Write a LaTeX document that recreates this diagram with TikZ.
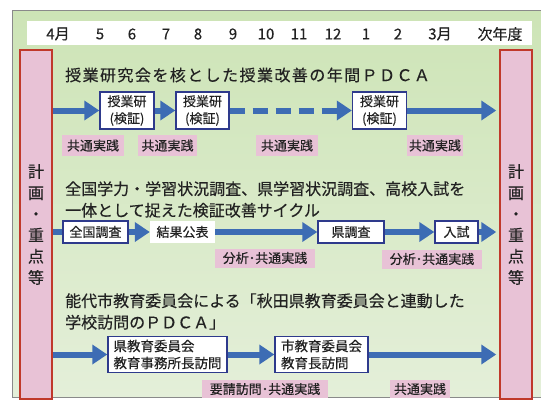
\documentclass[tikz,border=0pt]{standalone}
\usepackage{fontspec}
\setmainfont{Noto Sans CJK JP}[FakeBold=0.4]
\usetikzlibrary{arrows.meta}
\definecolor{bgtop}{HTML}{CDE4B6}
\definecolor{bgbot}{HTML}{E4EFD9}
\definecolor{pinkfill}{HTML}{E8C2D6}
\definecolor{barred}{HTML}{C0392B}
\definecolor{arrblue}{HTML}{3D6CB4}
\definecolor{navy}{HTML}{2E3A8C}
\definecolor{txt}{HTML}{222222}
\definecolor{framegray}{HTML}{8A8A8A}
\begin{document}
\begin{tikzpicture}[x=1pt,y=-1pt,
 every node/.style={text=txt, inner sep=0pt},
 bar/.style={draw=barred, line width=1.5pt, fill=pinkfill, minimum width=32pt, minimum height=349pt, align=center, font=\fontsize{16}{21.2}\selectfont},
 box/.style={draw=navy, line width=1.4pt, fill=white, align=center, font=\fontsize{13}{17}\selectfont},
 plainbox/.style={fill=white, font=\fontsize{13}{17}\selectfont},
 lbl/.style={fill=pinkfill, font=\fontsize{13}{15}\selectfont, minimum height=21pt},
 ttl/.style={anchor=west, align=left, font=\fontsize{16}{21.5}\selectfont},
 mon/.style={font=\fontsize{15}{17}\selectfont},
 arr/.style={draw=arrblue, line width=6pt, -{Triangle[length=15pt,width=19pt]}},
 seg/.style={draw=arrblue, line width=6pt},
]
\useasboundingbox (0,0) rectangle (541,402);
\fill[white] (0,0) rectangle (541,402);
\fill[top color=bgtop, bottom color=bgbot] (12,10) rectangle (545,397);
\draw[framegray, line width=1pt] (545,10) -- (12,10) -- (12,397) -- (545,397);
\fill[white] (27,21) rectangle (532,45);

% months
\node[mon] (m4) at (58,34) {4月};
\node[mon] (m5) at (100,34) {5};
\node[mon] (m6) at (132,34) {6};
\node[mon] (m7) at (166,34) {7};
\node[mon] (m8) at (198,34) {8};
\node[mon] (m9) at (233,34) {9};
\node[mon] (m10) at (266,34) {10};
\node[mon] (m11) at (299,34) {11};
\node[mon] (m12) at (333,34) {12};
\node[mon] (m1) at (366,34) {1};
\node[mon] (m2) at (398,34) {2};
\node[mon] (m3) at (440,34) {3月};
\node[mon] (mn) at (500,34) {次年度};

% side bars
\node[bar] (lbar) at (36,224.5) {計\\画\\・\\重\\点\\等};
\node[bar] (rbar) at (516,224.5) {計\\画\\・\\重\\点\\等};

% row 1
\node[ttl] (t1) at (65,75) {\addfontfeature{LetterSpace=9}授業研究会を核とした授業改善の年間ＰＤＣＡ};
\node[box, minimum width=54pt, minimum height=37pt] (b1) at (127,110.5) {授業研\\(検証)};
\node[box, minimum width=53pt, minimum height=37pt] (b2) at (202.5,110.5) {授業研\\(検証)};
\node[box, minimum width=54pt, minimum height=37pt] (b3) at (379.5,110.5) {授業研\\(検証)};
\draw[arr] (lbar.east |- b1.west) -- (b1.west);
\draw[arr] (b1) -- (b2);
\draw[arr, dash pattern=on 15pt off 8pt] (b2) -- (b3);
\draw[arr, shorten >=3pt] (b3) -- (rbar.west |- b3.east);
\node[lbl, minimum width=62pt] (l1) at (93,145.5) {共通実践};
\node[lbl, minimum width=59pt] (l2) at (167.5,145.5) {共通実践};
\node[lbl, minimum width=62pt] (l3) at (287,145.5) {共通実践};
\node[lbl, minimum width=56pt] (l4) at (435,145.5) {共通実践};

% row 2
\node[ttl] (t2) at (65,199.5) {全国学力・学習状況調査、県学習状況調査、高校入試を\\一体として捉えた検証改善サイクル};
\node[box, minimum width=65pt, minimum height=22pt] (c1) at (95.5,232) {全国調査};
\node[plainbox, minimum width=65pt, minimum height=22pt] (c2) at (182.5,232) {結果公表};
\node[box, minimum width=66pt, minimum height=22pt] (c3) at (351,232) {県調査};
\node[box, minimum width=43pt, minimum height=22pt] (c4) at (456.5,232) {入試};
\draw[seg] (lbar.east |- c1.west) -- (c1.west);
\draw[arr] (c1) -- (c2);
\draw[arr] (c2) -- (c3);
\draw[arr] (c3) -- (c4);
\draw[arr, shorten >=3pt] (c4) -- (rbar.west |- c4.east);
\node[lbl, minimum width=100pt, minimum height=19pt] (l5) at (265,258) {分析･共通実践};
\node[lbl, minimum width=100pt, minimum height=19pt] (l6) at (432,259) {分析･共通実践};

% row 3
\node[ttl] (t3) at (65,311.5) {能代市教育委員会による「秋田県教育委員会と連動した\\学校訪問のＰＤＣＡ」};
\node[box, align=left, minimum width=119pt, minimum height=36pt, font=\fontsize{13.5}{17}\selectfont] (d1) at (167.5,354.5) {県教育委員会\\教育事務所長訪問};
\node[box, align=left, minimum width=93pt, minimum height=36pt, font=\fontsize{13.5}{17}\selectfont] (d2) at (321.5,354.5) {市教育委員会\\教育長訪問};
\draw[arr] (lbar.east |- d1.west) -- (d1.west);
\draw[arr] (d1) -- (d2);
\draw[arr, shorten >=3pt] (d2) -- (rbar.west |- d2.east);
\node[lbl, minimum width=126pt, minimum height=18pt] (l7) at (265,389) {要請訪問･共通実践};
\node[lbl, minimum width=60pt, minimum height=18pt] (l8) at (420,389) {共通実践};
\end{tikzpicture}
\end{document}
